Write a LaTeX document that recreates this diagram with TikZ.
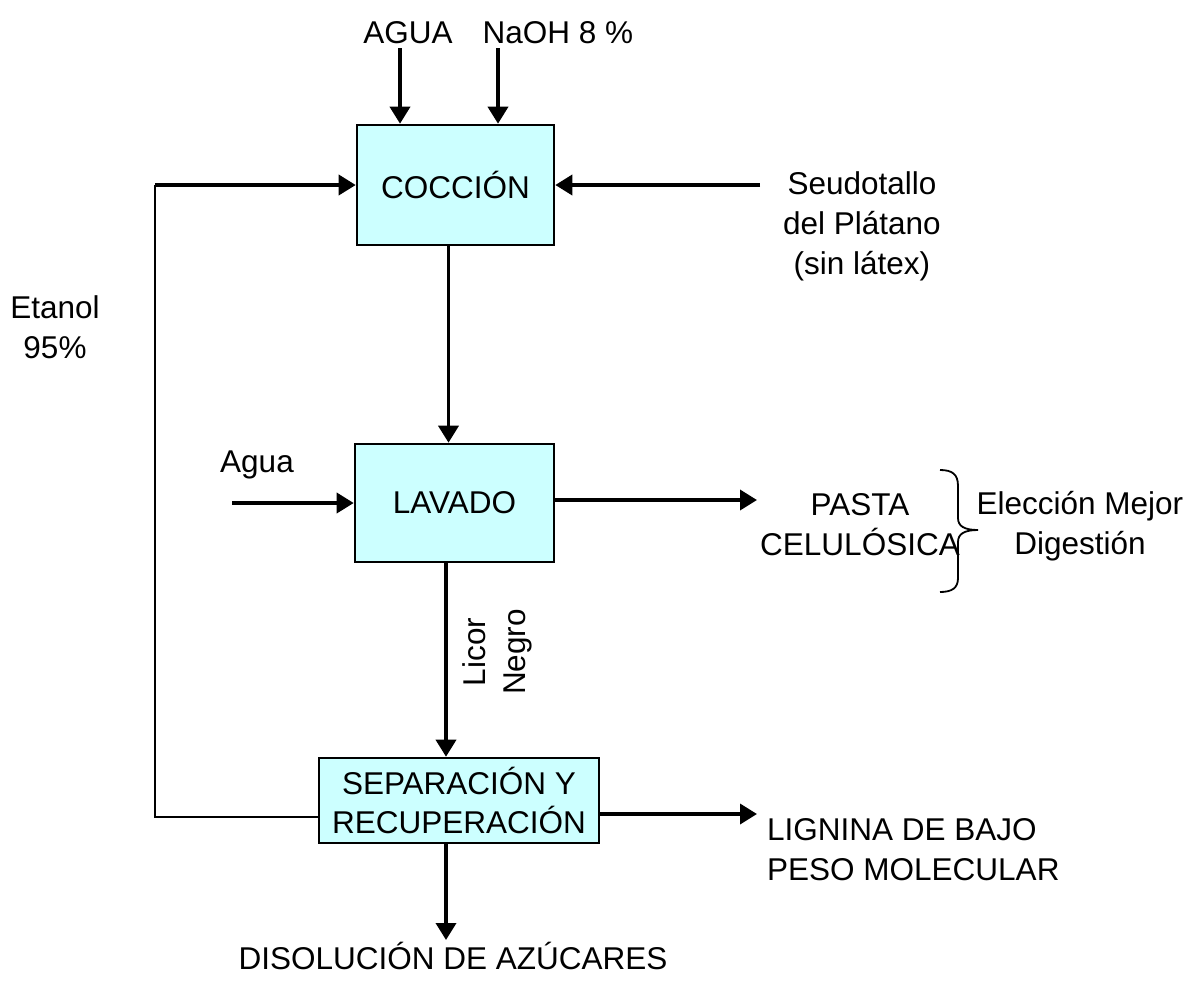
\documentclass[tikz,border=0pt]{standalone}
\usepackage{fontspec}
\setmainfont{Liberation Sans}
\usetikzlibrary{arrows.meta}
\definecolor{boxfill}{HTML}{CCFFFF}
\begin{document}
\begin{tikzpicture}[x=1pt,y=-1pt,
  every node/.style={font=\fontsize{31.5}{40}\selectfont, inner sep=0pt, align=center},
  procbox/.style={draw=black, line width=2.6pt, fill=boxfill},
  arr/.style={line width=3.6pt, -{Triangle[length=17pt,width=20pt]}},
  plain/.style={line width=2.6pt}]
\useasboundingbox (0,0) rectangle (1191,994);
% boxes
\node[procbox, minimum width=197pt, minimum height=120pt] (cocc) at (455.5,185) {COCCIÓN};
\node[procbox, minimum width=199pt, minimum height=118pt] (lav) at (454.5,503) {LAVADO};
\node[procbox, minimum width=280pt, minimum height=85pt, font=\fontsize{31.5}{39}\selectfont] (sep) at (459,800.5) {SEPARACIÓN Y\\RECUPERACIÓN};
% labels
\node (agua1) at (408,33) {AGUA};
\node (naoh) at (558,33) {NaOH 8 \%};
\node (seudo) at (862,226) {\fontsize{31.5}{41}\selectfont Seudotallo\\del Plátano\\(sin látex)};
\node (etanol) at (55,327) {Etanol\\95\%};
\node (agua2) at (257,465) {Agua};
\node (pasta) at (860,525) {PASTA\\CELULÓSICA};
\node (elec) at (1080,526) {\fontsize{31.5}{38}\selectfont Elección Mejor\\Digestión};
\node[rotate=90] (licor) at (497,652) {\fontsize{31.5}{30}\selectfont Licor\\Negro};
\node[anchor=west, align=left] (lign) at (767,850) {\fontsize{31.5}{30}\selectfont LIGNINA DE BAJO\\PESO MOLECULAR};
\node (disol) at (453,956) {DISOLUCIÓN DE AZÚCARES};
% free ends
\coordinate (aguaS) at (400,48);
\coordinate (naohS) at (498,48);
\coordinate (seudoS) at (760,185);
\coordinate (fbTop) at (155,185);
\coordinate (fbBot) at (155,817);
\coordinate (aguaL) at (232,503);
\coordinate (pastaE) at (757,500);
\coordinate (lignE) at (757,814);
\coordinate (disolE) at (446,940);
% connectors
\draw[arr] (aguaS) -- (aguaS |- cocc.north);
\draw[arr] (naohS) -- (naohS |- cocc.north);
\draw[arr] (seudoS) -- (cocc.east);
\draw[arr] (fbTop) -- (cocc.west);
\draw[plain] (fbBot -| sep.west) -- (fbBot) -- (fbTop);
\draw[arr] ([xshift=-7pt]cocc.south) -- ([xshift=-6pt]lav.north);
\draw[arr] (aguaL) -- (aguaL -| lav.west);
\draw[arr] (pastaE -| lav.east) -- (pastaE);
\draw[arr] ([xshift=-8.5pt]lav.south) -- ([xshift=-13pt]sep.north);
\draw[arr] (lignE -| sep.east) -- (lignE);
\draw[arr] (disolE |- sep.south) -- (disolE);
% brace
\draw[line width=1.8pt] (940,470) .. controls (952,470) and (958,474) .. (958,486) -- (958,518) .. controls (958,526) and (964,530) .. (978,530) .. controls (964,530) and (958,534) .. (958,542) -- (958,578) .. controls (958,588) and (952,592) .. (940,592);
\end{tikzpicture}
\end{document}
